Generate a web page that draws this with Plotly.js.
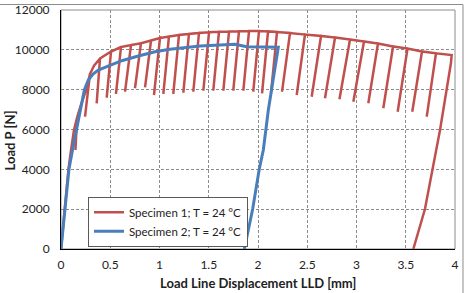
<!DOCTYPE html>
<html>
<head>
<meta charset="utf-8">
<script src="https://cdn.plot.ly/plotly-3.0.1.min.js"></script>
<style>html,body{margin:0;padding:0;background:#fff;}#chart{width:465px;height:293px;}</style>
</head>
<body>
<div id="chart"></div>
<script>
// ---- Specimen 1 (red) ----
const redLoadX = [0, 0.030, 0.056, 0.076, 0.102, 0.132];
const redLoadY = [0, 1707, 2962, 4017, 4971, 5975];
const redEnvX = [0.193, 0.223, 0.261, 0.335];
const redEnvY = [7080, 7580, 8084, 9200];
const redPeakX = [0.162, 0.294, 0.396, 0.508, 0.609, 0.711, 0.812, 0.914, 1.005, 1.096, 1.198, 1.299, 1.401, 1.503, 1.604, 1.706, 1.807, 1.909, 2.010, 2.102, 2.193, 2.325, 2.477, 2.640, 2.782, 2.934, 3.076, 3.218, 3.371, 3.518, 3.665, 3.807];
const redPeakY = [6578, 8787, 9565, 9916, 10142, 10243, 10333, 10469, 10594, 10670, 10745, 10795, 10845, 10880, 10906, 10921, 10936, 10946, 10941, 10926, 10896, 10845, 10770, 10695, 10619, 10519, 10418, 10318, 10167, 10067, 9916, 9826];
const redValleyX = [0.147, 0.244, 0.362, 0.464, 0.558, 0.650, 0.751, 0.853, 0.944, 1.039, 1.140, 1.242, 1.343, 1.445, 1.546, 1.648, 1.749, 1.851, 1.952, 2.041, 2.132, 2.244, 2.393, 2.545, 2.680, 2.827, 2.968, 3.120, 3.272, 3.418, 3.566, 3.713];
const redValleyY = [4971, 6643, 7316, 7597, 7783, 7898, 8069, 8119, 7732, 7783, 7783, 7848, 7898, 7948, 7948, 7948, 7948, 7948, 7898, 7818, 7818, 7898, 7732, 7647, 7567, 7516, 7396, 7316, 7065, 6894, 6894, 6643];
const redFinalX = [3.966, 3.959, 3.848, 3.774, 3.695, 3.577];
const redFinalY = [9741, 9339, 5975, 4017, 2008, 0];

// ---- Specimen 2 (blue) ----
const blueX = [0, 0.041, 0.081, 0.117, 0.159, 0.193, 0.237, 0.277, 0.325, 0.379, 0.497, 0.616, 0.785, 0.954, 1.107, 1.411, 1.614, 1.767, 1.885, 2.041, 2.206, 2.105, 2.054, 2.013, 1.946, 1.861];
const blueY = [0, 2008, 4017, 4971, 5975, 6879, 7983, 8485, 8787, 8988, 9239, 9455, 9690, 9906, 10027, 10193, 10243, 10278, 10158, 10142, 10127, 6980, 4971, 4017, 2008, 0];

const seriesNames = ['Specimen 1; T = 24 °C', 'Specimen 2; T = 24 °C'];
const xTicks = [0, 0.5, 1, 1.5, 2, 2.5, 3, 3.5, 4];
const yTicks = [0, 2000, 4000, 6000, 8000, 10000, 12000];

// build red path: loading, then cycles (envelope -> peak -> valley -> peak), then final unloading
const rx = redLoadX.slice(), ry = redLoadY.slice();
let e = 0;
for (let i = 0; i < redPeakX.length; i++) {
  while (e < redEnvX.length && redEnvX[e] < redPeakX[i]) { rx.push(redEnvX[e]); ry.push(redEnvY[e]); e++; }
  rx.push(redPeakX[i], redValleyX[i], redPeakX[i]);
  ry.push(redPeakY[i], redValleyY[i], redPeakY[i]);
}
for (let i = 0; i < redFinalX.length; i++) { rx.push(redFinalX[i]); ry.push(redFinalY[i]); }

const traces = [
  {x: rx, y: ry, type: 'scatter', mode: 'lines', name: seriesNames[0],
   line: {color: '#C0504D', width: 2.5}},
  {x: blueX, y: blueY, type: 'scatter', mode: 'lines', name: seriesNames[1],
   line: {color: '#4A7EBB', width: 3}}
];

const font = 'Lato, "Open Sans", sans-serif';
const layout = {
  width: 465, height: 293,
  margin: {l: 61, r: 10, t: 10, b: 44},
  paper_bgcolor: '#fff', plot_bgcolor: '#fff',
  showlegend: true,
  legend: {x: 0.0685, y: 0.219, xanchor: 'left', yanchor: 'top',
    bgcolor: '#fff', bordercolor: '#595959', borderwidth: 1, itemwidth: 30,
    font: {family: font, size: 11.5, color: '#222'}, tracegroupgap: 0},
  xaxis: {range: [0, 4], tickvals: xTicks, ticktext: xTicks.map(String),
    showgrid: true, gridcolor: '#8c8c8c', griddash: '3px,2px', gridwidth: 1,
    showline: true, linecolor: '#000', linewidth: 1, zeroline: false, ticks: '',
    ticklabelstandoff: 5,
    tickfont: {family: font, size: 12, color: '#222'}},
  yaxis: {range: [0, 12000], tickvals: yTicks, ticktext: yTicks.map(String),
    showgrid: true, gridcolor: '#8c8c8c', griddash: '3px,2px', gridwidth: 1,
    showline: true, linecolor: '#000', linewidth: 1, zeroline: false, ticks: '',
    ticklabelstandoff: 8,
    tickfont: {family: font, size: 12, color: '#222'}},
  shapes: [
    {type: 'rect', xref: 'paper', yref: 'paper', x0: 0, x1: 1, y0: 0, y1: 1,
     line: {color: '#8c8c8c', width: 1}, layer: 'below'},
    {type: 'line', xref: 'paper', yref: 'paper', x0: -0.2, x1: 1.0203, y0: 1.023, y1: 1.023,
     line: {color: '#8c8c8c', width: 1}},
    {type: 'line', xref: 'paper', yref: 'paper', x0: 1.0203, x1: 1.0203, y0: -0.25, y1: 1.023,
     line: {color: '#8c8c8c', width: 1}}
  ],
  annotations: [
    {text: '<b>Load Line Displacement LLD [mm]</b>', xref: 'paper', yref: 'paper',
     x: 0.5, y: -0.142, xanchor: 'center', yanchor: 'middle', showarrow: false,
     font: {family: font, size: 13, color: '#222'}},
    {text: '<b>Load P [N]</b>', xref: 'paper', yref: 'paper', textangle: -90,
     x: -0.127, y: 0.454, xanchor: 'center', yanchor: 'middle', showarrow: false,
     font: {family: font, size: 13, color: '#222'}}
  ]
};

Plotly.newPlot('chart', traces, layout, {displayModeBar: false, staticPlot: true});
</script>
</body>
</html>
